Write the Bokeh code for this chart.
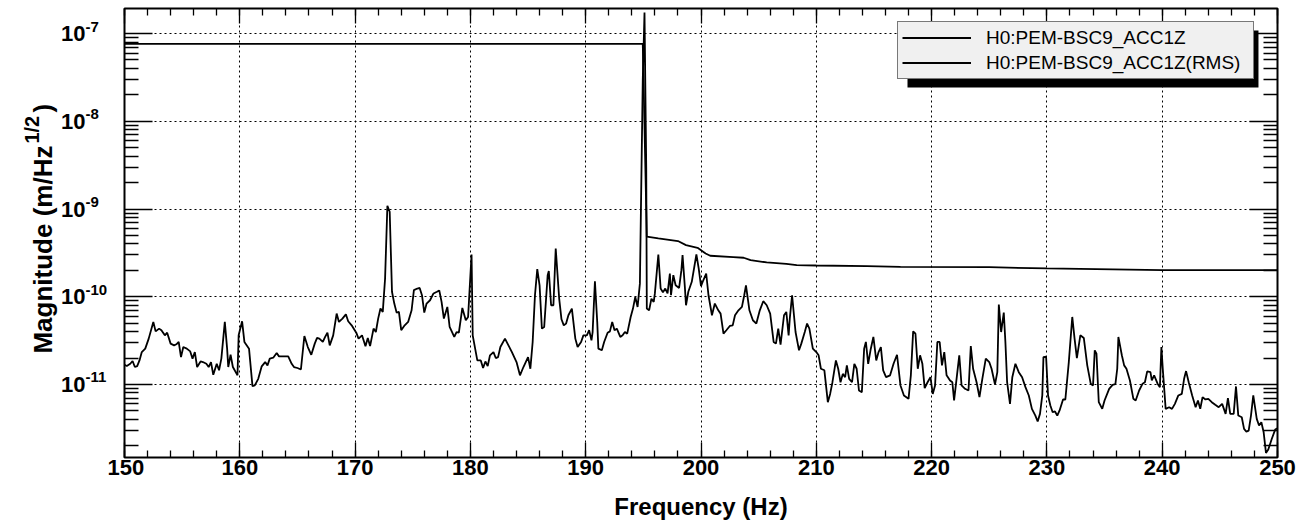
import math
from bokeh.plotting import figure
from bokeh.layouts import row
from bokeh.models import (Range1d, LinearAxis, LogAxis, FixedTicker, CustomJSTickFormatter,
                          Legend, LegendItem, BoxAnnotation)
from bokeh.core.properties import value
from bokeh.embed import file_html
from bokeh.resources import INLINE

# ---------------- data ----------------
freq = [150.0, 150.2, 150.5, 150.7, 150.9, 151.1, 151.3, 151.5, 151.8, 152.1, 152.5, 152.7,
        153.0, 153.2, 153.5, 153.7, 154.0, 154.3, 154.5, 154.7, 154.9, 155.1, 155.4, 155.7,
        155.9, 156.1, 156.3, 156.6, 156.8, 157.1, 157.3, 157.5, 157.7, 158.0, 158.2, 158.4,
        158.7, 158.9, 159.0, 159.2, 159.4, 159.8, 159.9, 160.2, 160.4, 160.8, 161.1, 161.3,
        161.6, 161.9, 162.2, 162.4, 162.6, 162.9, 163.2, 163.4, 163.7, 164.2, 164.5, 164.7,
        165.0, 165.3, 165.6, 165.9, 166.2, 166.5, 166.7, 166.9, 167.2, 167.4, 167.6, 167.8,
        168.1, 168.4, 168.6, 168.9, 169.2, 169.4, 169.7, 170.1, 170.3, 170.6, 170.9, 171.1,
        171.3, 171.6, 171.8, 172.0, 172.2, 172.4, 172.6, 172.8, 173.0, 173.2, 173.4, 173.6,
        173.8, 174.0, 174.3, 174.6, 174.9, 175.1, 175.4, 175.6, 175.8, 176.0, 176.2, 176.5,
        176.8, 177.1, 177.3, 177.5, 177.7, 178.0, 178.2, 178.6, 178.8, 179.0, 179.3, 179.6,
        179.8, 180.1, 180.2, 180.6, 180.9, 181.1, 181.3, 181.5, 181.7, 182.0, 182.2, 182.4,
        182.6, 183.0, 183.3, 183.6, 184.0, 184.3, 184.6, 185.0, 185.2, 185.4, 185.6, 185.8,
        186.0, 186.2, 186.4, 186.7, 186.8, 187.0, 187.2, 187.4, 187.7, 187.9, 188.1, 188.3,
        188.5, 188.8, 189.1, 189.3, 189.6, 189.8, 190.1, 190.3, 190.5, 190.6, 190.8, 191.0,
        191.1, 191.4, 191.6, 191.9, 192.1, 192.3, 192.5, 192.7, 193.0, 193.2, 193.4, 193.6,
        193.9, 194.1, 194.3, 194.5, 194.7, 194.95, 195.1, 195.25, 195.3, 195.5, 195.7, 195.9,
        196.0, 196.3, 196.5, 196.7, 196.9, 197.1, 197.3, 197.4, 197.6, 197.8, 198.1, 198.3,
        198.4, 198.6, 198.7, 198.9, 199.2, 199.6, 199.8, 200.0, 200.2, 200.45, 200.65, 200.95,
        201.2, 201.5, 201.7, 201.95, 202.2, 202.5, 202.75, 202.95, 203.25, 203.55, 203.75, 203.9,
        204.2, 204.5, 204.8, 205.1, 205.4, 205.7, 206.0, 206.3, 206.5, 206.7, 206.9, 207.2,
        207.4, 207.6, 207.7, 207.9, 208.2, 208.5, 208.7, 209.0, 209.2, 209.4, 209.7, 210.0,
        210.2, 210.4, 210.7, 211.0, 211.2, 211.4, 211.7, 211.9, 212.1, 212.3, 212.5, 212.65,
        212.85, 213.1, 213.3, 213.5, 213.7, 213.95, 214.15, 214.3, 214.5, 214.7, 214.95, 215.2,
        215.4, 215.6, 215.8, 216.05, 216.4, 216.7, 217.0, 217.3, 217.6, 218.0, 218.2, 218.4,
        218.6, 218.8, 219.0, 219.2, 219.4, 219.65, 219.9, 220.1, 220.3, 220.5, 220.7, 220.9,
        221.1, 221.3, 221.6, 221.8, 221.95, 222.2, 222.4, 222.6, 222.9, 223.2, 223.4, 223.6,
        223.9, 224.15, 224.4, 224.7, 225.0, 225.2, 225.5, 225.7, 225.83, 226.03, 226.26, 226.4,
        226.55, 226.8, 227.0, 227.27, 227.56, 227.85, 228.14, 228.43, 228.7, 229.0, 229.2, 229.4,
        229.6, 229.7, 229.93, 230.1, 230.3, 230.5, 230.7, 230.9, 231.1, 231.4, 231.6, 231.9,
        232.2, 232.4, 232.6, 232.9, 233.2, 233.5, 233.8, 234.0, 234.15, 234.3, 234.5, 234.8,
        235.0, 235.4, 235.7, 235.94, 236.1, 236.2, 236.5, 236.7, 236.9, 237.2, 237.5, 237.7,
        238.0, 238.3, 238.5, 238.7, 238.98, 239.1, 239.3, 239.6, 239.8, 239.93, 240.05, 240.3,
        240.6, 240.85, 241.1, 241.4, 241.7, 241.9, 242.07, 242.3, 242.6, 242.9, 243.1, 243.3,
        243.5, 243.75, 244.0, 244.3, 244.6, 244.9, 245.2, 245.5, 245.7, 245.9, 246.2, 246.4,
        246.6, 246.9, 247.1, 247.3, 247.5, 247.7, 247.9, 248.2, 248.4, 248.6, 248.8, 249.0,
        249.2, 249.5, 249.8, 250.0]

asd = [1.68e-11, 1.62e-11, 1.72e-11, 1.85e-11, 1.58e-11, 1.62e-11, 1.88e-11, 2.34e-11, 2.56e-11, 3.33e-11, 5.16e-11, 4.03e-11,
       4.33e-11, 4.15e-11, 3.63e-11, 3.89e-11, 2.92e-11, 2.79e-11, 2.87e-11, 3.05e-11, 2.05e-11, 2.67e-11, 2.56e-11, 2.38e-11,
       1.97e-11, 2.34e-11, 1.58e-11, 1.83e-11, 1.80e-11, 1.72e-11, 1.58e-11, 1.80e-11, 1.29e-11, 1.72e-11, 1.45e-11, 1.97e-11,
       5.16e-11, 2.56e-11, 1.58e-11, 2.18e-11, 1.58e-11, 1.27e-11, 3.63e-11, 5.25e-11, 3.05e-11, 2.56e-11, 9.57e-12, 9.74e-12,
       1.16e-11, 1.61e-11, 1.80e-11, 1.65e-11, 1.97e-11, 2.02e-11, 2.28e-11, 2.09e-11, 2.09e-11, 2.09e-11, 1.72e-11, 1.58e-11,
       1.54e-11, 1.48e-11, 3.57e-11, 2.67e-11, 2.18e-11, 2.92e-11, 3.39e-11, 3.33e-11, 3.05e-11, 3.48e-11, 3.89e-11, 2.79e-11,
       3.63e-11, 6.42e-11, 5.16e-11, 5.63e-11, 6.30e-11, 5.25e-11, 4.72e-11, 3.89e-11, 3.33e-11, 3.63e-11, 2.72e-11, 3.39e-11,
       2.74e-11, 4.33e-11, 3.96e-11, 5.63e-11, 7.33e-11, 6.71e-11, 1.61e-10, 1.09e-9, 9.3e-10, 1.14e-10, 8.36e-11, 6.59e-11,
       6.71e-11, 4.15e-11, 4.72e-11, 5.16e-11, 7.01e-11, 1.19e-10, 1.24e-10, 1.26e-10, 1.04e-10, 6.59e-11, 8.36e-11, 9.12e-11,
       1.09e-10, 1.14e-10, 1.18e-10, 8.73e-11, 5.63e-11, 7.65e-11, 4.52e-11, 3.48e-11, 3.96e-11, 3.89e-11, 7.45e-11, 5.39e-11,
       5.88e-11, 3.03e-10, 3.63e-11, 1.88e-11, 1.88e-11, 1.54e-11, 1.83e-11, 1.62e-11, 2.15e-11, 2.34e-11, 2.00e-11, 2.05e-11,
       2.67e-11, 3.33e-11, 2.79e-11, 2.34e-11, 1.80e-11, 1.27e-11, 1.58e-11, 2.05e-11, 1.51e-11, 3.05e-11, 1.04e-10, 2.06e-10,
       1.35e-10, 4.33e-11, 4.52e-11, 1.76e-10, 1.96e-10, 8.0e-11, 8.0e-11, 3.55e-10, 9.53e-11, 5.53e-11, 4.72e-11, 4.94e-11,
       6.15e-11, 7.33e-11, 3.33e-11, 2.67e-11, 3.05e-11, 3.63e-11, 3.63e-11, 4.15e-11, 3.18e-11, 3.96e-11, 1.50e-10, 5.16e-11,
       2.56e-11, 2.45e-11, 3.05e-11, 3.89e-11, 4.03e-11, 5.16e-11, 4.15e-11, 4.33e-11, 3.48e-11, 3.63e-11, 3.96e-11, 3.79e-11,
       5.88e-11, 7.33e-11, 9.96e-11, 7.65e-11, 1.41e-10, 3.0e-8, 1.74e-7, 3.0e-9, 7.33e-11, 7.0e-11, 9.5e-11, 8.73e-11,
       1.09e-10, 3.03e-10, 1.24e-10, 1.12e-10, 1.24e-10, 1.09e-10, 1.84e-10, 1.04e-10, 1.76e-10, 1.35e-10, 1.26e-10, 2.01e-10,
       2.98e-10, 1.29e-10, 8.0e-11, 1.14e-10, 1.48e-10, 3.03e-10, 2.10e-10, 1.32e-10, 1.54e-10, 1.84e-10, 1.04e-10, 6.15e-11,
       8.36e-11, 7.0e-11, 6.42e-11, 3.79e-11, 4.15e-11, 4.64e-11, 4.72e-11, 6.15e-11, 7.0e-11, 7.65e-11, 1.04e-10, 1.35e-10,
       7.0e-11, 5.39e-11, 4.94e-11, 7.0e-11, 8.89e-11, 8.0e-11, 6.42e-11, 3.05e-11, 2.92e-11, 4.33e-11, 2.85e-11, 6.15e-11,
       6.71e-11, 3.63e-11, 5.63e-11, 1.04e-10, 3.96e-11, 2.45e-11, 2.92e-11, 3.96e-11, 4.94e-11, 4.33e-11, 2.56e-11, 2.34e-11,
       2.15e-11, 1.51e-11, 1.45e-11, 6.28e-12, 7.8e-12, 1.06e-11, 1.88e-11, 1.51e-11, 1.06e-11, 1.32e-11, 1.21e-11, 1.65e-11,
       1.16e-11, 1.06e-11, 1.72e-11, 1.51e-11, 8.54e-12, 8.17e-12, 2.56e-11, 3.05e-11, 1.72e-11, 2.45e-11, 3.48e-11, 1.88e-11,
       2.34e-11, 2.67e-11, 1.45e-11, 1.21e-11, 1.27e-11, 1.72e-11, 2.18e-11, 9.74e-12, 7.49e-12, 6.86e-12, 1.27e-11, 4.03e-11,
       3.79e-11, 1.51e-11, 2.15e-11, 1.72e-11, 9.08e-12, 1.06e-11, 1.21e-11, 7.8e-12, 9.74e-12, 3.05e-11, 3.05e-11, 1.65e-11,
       2.34e-11, 1.27e-11, 1.11e-11, 1.06e-11, 6.57e-12, 1.27e-11, 2.15e-11, 9.74e-12, 8.92e-12, 8.54e-12, 2.74e-11, 1.51e-11,
       1.06e-11, 7.17e-12, 1.16e-11, 1.97e-11, 1.80e-11, 1.51e-11, 1.0e-11, 1.38e-11, 8.14e-11, 3.96e-11, 6.59e-11, 3.05e-11,
       1.06e-11, 6.01e-12, 1.21e-11, 1.72e-11, 1.38e-11, 1.21e-11, 9.32e-12, 7.49e-12, 5.27e-12, 4.42e-12, 3.78e-12, 4.62e-12,
       7.49e-12, 2.05e-11, 2.07e-11, 7.49e-12, 5.75e-12, 4.83e-12, 4.92e-12, 4.42e-12, 5.05e-12, 6.74e-12, 6.74e-12, 1.80e-11,
       5.88e-11, 3.33e-11, 2.00e-11, 3.63e-11, 3.39e-11, 1.65e-11, 1.02e-11, 9.74e-12, 2.45e-11, 2.24e-11, 6.28e-12, 5.27e-12,
       6.57e-12, 8.92e-12, 9.91e-12, 1.01e-11, 1.51e-11, 3.48e-11, 2.15e-11, 1.65e-11, 1.51e-11, 1.11e-11, 6.86e-12, 6.57e-12,
       8.54e-12, 1.02e-11, 1.06e-11, 1.41e-11, 1.38e-11, 1.11e-11, 1.27e-11, 1.02e-11, 9.32e-12, 2.67e-11, 1.51e-11, 5.27e-12,
       5.5e-12, 5.27e-12, 6.01e-12, 7.49e-12, 7.82e-12, 1.16e-11, 1.42e-11, 1.06e-11, 7.49e-12, 5.5e-12, 6.57e-12, 5.27e-12,
       7.17e-12, 6.74e-12, 6.86e-12, 6.28e-12, 5.86e-12, 5.5e-12, 6.01e-12, 4.62e-12, 6.98e-12, 4.62e-12, 4.62e-12, 9.49e-12,
       4.42e-12, 4.23e-12, 3.11e-12, 2.9e-12, 2.98e-12, 4.42e-12, 7.49e-12, 4.05e-12, 3.4e-12, 3.71e-12, 2.85e-12, 1.66e-12,
       1.81e-12, 2.39e-12, 3.06e-12, 3.17e-12]

rms_freq = [150.0, 194.95, 195.3, 196.3, 198.0, 198.7, 199.7, 200.4, 200.8, 202.8, 203.7, 204.3,
            205.7, 207.4, 208.3, 210.0, 214.4, 217.3, 225.0, 230.0, 240.0, 250.0]
rms_asd = [7.63e-8, 7.63e-8, 4.83e-10, 4.62e-10, 4.31e-10, 3.88e-10, 3.61e-10, 3.11e-10, 2.93e-10, 2.83e-10, 2.78e-10, 2.61e-10,
           2.46e-10, 2.37e-10, 2.29e-10, 2.27e-10, 2.23e-10, 2.19e-10, 2.17e-10, 2.10e-10, 2.01e-10, 2.01e-10]

x_major_ticks = [150, 160, 170, 180, 190, 200, 210, 220, 230, 240, 250]
x_minor_ticks = list(range(150, 251, 2))
y_decades = [-12, -11, -10, -9, -8, -7, -6]
y_label_decades = [-11, -10, -9, -8, -7]
legend_labels = ["H0:PEM-BSC9_ACC1Z", "H0:PEM-BSC9_ACC1Z(RMS)"]
x_title = "Frequency (Hz)"
y_title_main = "Magnitude (m/Hz"
y_title_sup = "1/2"
y_title_end = ")"

FONT = "Liberation Sans"
LEFT_W = 107          # width of the left strip holding the y tick labels and y title
Y_RANGE = Range1d(1.47e-12, 1.93e-7)

# ---------------- main figure ----------------
p = figure(width=1305 - LEFT_W, height=530, y_axis_type="log",
           x_range=Range1d(150, 250), y_range=Y_RANGE,
           output_backend="svg", toolbar_location=None,
           min_border_left=124 - LEFT_W, min_border_right=28, min_border_top=8, min_border_bottom=73)
p.background_fill_color = "white"
p.border_fill_color = "white"
p.outline_line_color = "black"
p.outline_line_width = 2

x_ticker = FixedTicker(ticks=x_major_ticks, minor_ticks=x_minor_ticks)
y_major = [10.0 ** k for k in y_decades]
y_minor = [m * 10.0 ** k for k in y_decades for m in range(2, 10)]
y_ticker = FixedTicker(ticks=y_major, minor_ticks=y_minor)
blank = CustomJSTickFormatter(code="return ''")

def style_axis(ax, major_in, minor_in):
    ax.axis_line_color = None
    ax.major_tick_in = major_in
    ax.major_tick_out = 0
    ax.minor_tick_in = minor_in
    ax.minor_tick_out = 0
    ax.major_tick_line_color = "black"
    ax.minor_tick_line_color = "black"
    ax.major_tick_line_width = 1.3
    ax.minor_tick_line_width = 1.3

xb = p.below[0]
xb.ticker = x_ticker
style_axis(xb, 15, 7)
xb.major_label_text_font = FONT
xb.major_label_text_font_style = "bold"
xb.major_label_text_font_size = "22px"
xb.major_label_text_color = "black"
xb.major_label_standoff = 2
xb.axis_label = x_title
xb.axis_label_text_font = FONT
xb.axis_label_text_font_style = "bold"
xb.axis_label_text_font_size = "24px"
xb.axis_label_text_color = "black"
xb.axis_label_standoff = 15

yl = p.left[0]
yl.ticker = y_ticker
yl.formatter = blank
style_axis(yl, 28, 14)
yl.major_label_text_font_size = "0px"
yl.major_label_standoff = 0

xt = LinearAxis(ticker=x_ticker, formatter=blank)
style_axis(xt, 15, 7)
xt.major_label_text_font_size = "0px"
xt.major_label_standoff = 0
p.add_layout(xt, "above")

yr = LogAxis(ticker=y_ticker, formatter=blank)
style_axis(yr, 28, 14)
yr.major_label_text_font_size = "0px"
yr.major_label_standoff = 0
p.add_layout(yr, "right")

p.xgrid.ticker = x_ticker
p.ygrid.ticker = y_ticker
for g in (p.xgrid, p.ygrid):
    g.grid_line_color = "black"
    g.grid_line_width = 1
    g.grid_line_dash = "2 3"
    g.grid_line_alpha = 1.0

r_asd = p.line(freq, asd, line_color="black", line_width=1.8)
r_rms = p.line(rms_freq, rms_asd, line_color="black", line_width=1.8)

shadow = BoxAnnotation(left=217.91, right=248.35, top=1.08e-7, bottom=2.43e-8,
                       fill_color="black", fill_alpha=1.0, line_color=None)
p.add_layout(shadow)

legend = Legend(items=[LegendItem(label=legend_labels[0], renderers=[r_asd]),
                       LegendItem(label=legend_labels[1], renderers=[r_rms])],
                location=(773, 378), orientation="vertical",
                label_text_font=FONT, label_text_font_size="19px", label_text_color="black",
                glyph_width=69, glyph_height=23, label_height=23, label_width=263,
                label_standoff=15, padding=4, spacing=2, margin=0,
                border_line_color="black", border_line_width=1,
                background_fill_color="#f0f0f0", background_fill_alpha=1.0)
p.add_layout(legend)

# ---------------- left strip: y tick labels 10^n and the y title ----------------
pl = figure(width=LEFT_W, height=530, y_axis_type="log",
            x_range=Range1d(0, LEFT_W), y_range=Y_RANGE,
            x_axis_location=None, y_axis_location=None,
            output_backend="svg", toolbar_location=None,
            min_border_left=0, min_border_right=0, min_border_top=8, min_border_bottom=73)
pl.outline_line_color = None
pl.grid.visible = False
pl.background_fill_color = "white"
pl.border_fill_color = "white"

tick_vals = [10.0 ** k for k in y_label_decades]
LABEL_X = 85
pl.text(x=[LABEL_X] * len(tick_vals), y=tick_vals, text=["10"] * len(tick_vals),
        text_align="right", text_baseline="middle", text_font=value(FONT),
        text_font_style="bold", text_font_size="22px", text_color="black")
pl.text(x=[LABEL_X] * len(tick_vals), y=tick_vals, text=[str(k) for k in y_label_decades],
        y_offset=-7, text_align="left", text_baseline="middle", text_font=value(FONT),
        text_font_style="bold", text_font_size="15px", text_color="black")

Y_TITLE_ANCHOR = 2.25e-11
pl.text(x=[42], y=[Y_TITLE_ANCHOR], text=[y_title_main], angle=math.pi / 2,
        text_align="left", text_baseline="alphabetic", text_font=value(FONT),
        text_font_style="bold", text_font_size="26px", text_color="black")
pl.text(x=[31], y=[Y_TITLE_ANCHOR], text=[y_title_sup], angle=math.pi / 2, y_offset=-210,
        text_align="left", text_baseline="alphabetic", text_font=value(FONT),
        text_font_style="bold", text_font_size="20px", text_color="black")
pl.text(x=[42], y=[Y_TITLE_ANCHOR], text=[y_title_end], angle=math.pi / 2, y_offset=-241,
        text_align="left", text_baseline="alphabetic", text_font=value(FONT),
        text_font_style="bold", text_font_size="26px", text_color="black")

layout = row(pl, p)
open("out.html", "w").write(file_html(layout, INLINE))
